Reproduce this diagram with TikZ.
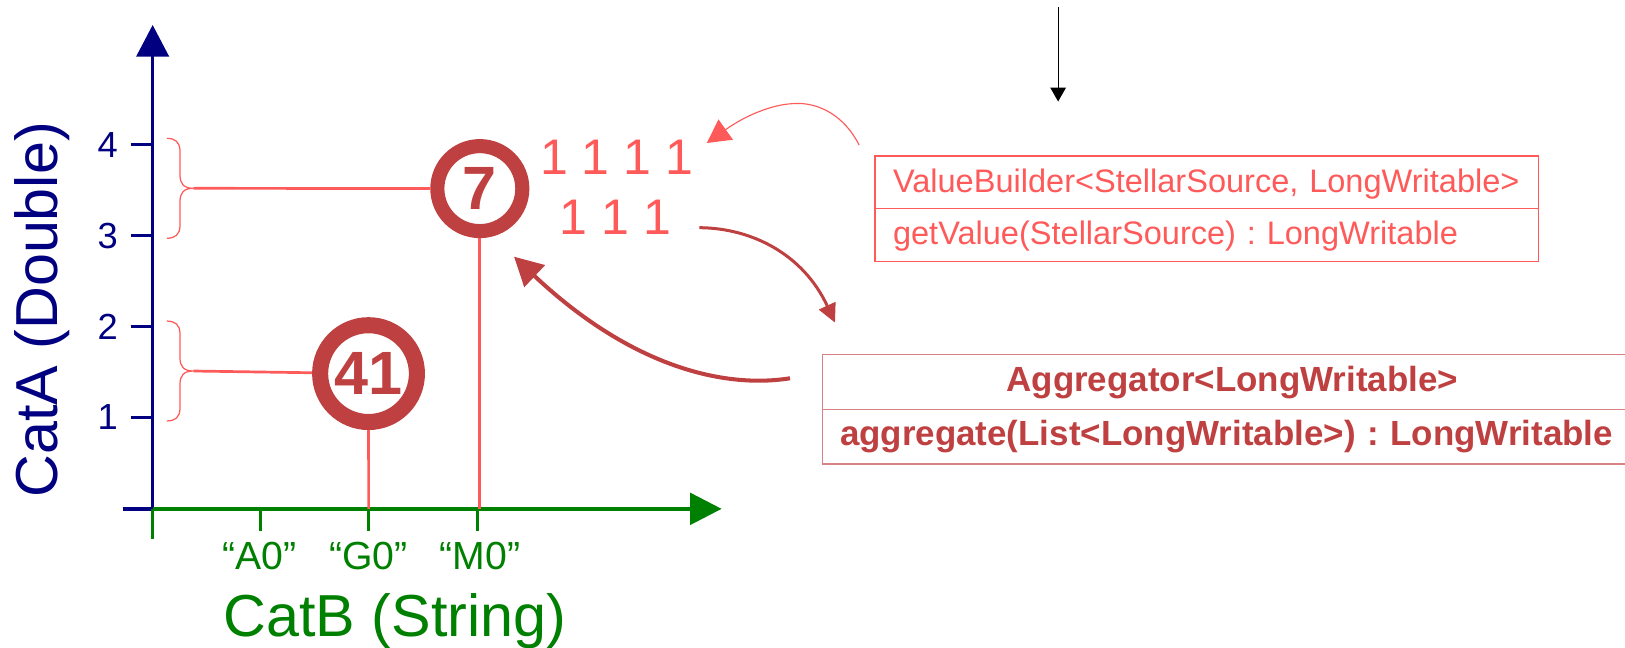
\documentclass[tikz,border=0pt]{standalone}
\usepackage{fontspec}
\setmainfont{Liberation Sans}
\usetikzlibrary{arrows.meta}
\frenchspacing

\definecolor{axisblue}{HTML}{000080}
\definecolor{axisgreen}{HTML}{008000}
\definecolor{salmon}{HTML}{FF5A5A}
\definecolor{brick}{HTML}{BF4040}

\tikzset{
  fsz/.style={font=\fontsize{#1}{#1}\selectfont},
  yaxisline/.style={draw=axisblue, line width=1.6pt},
  xaxisline/.style={draw=axisgreen, line width=1.6pt},
  ylabel/.style={text=axisblue, fsz=17.5pt, inner sep=0pt},
  xlabel/.style={text=axisgreen, fsz=18.9pt, inner sep=0pt, anchor=base},
  ring/.style={circle, draw=brick, inner sep=0pt, text=brick,
    font=\fontsize{29.5pt}{29.5pt}\selectfont\bfseries},
  stem/.style={draw=salmon, line width=1.3pt},
  curlystroke/.style={draw=salmon, line width=0.6pt},
  ones/.style={text=salmon, fsz=24.15pt, inner sep=0pt, anchor=base west},
  vbpart/.style={draw=salmon, line width=0.6pt, outer sep=0pt, inner ysep=0pt,
    inner xsep=8.7pt, text width=302.8pt, align=left, text=salmon,
    fsz=15.7pt, anchor=north west},
  aggpart/.style={draw=brick!65, line width=0.6pt, outer sep=0pt, inner ysep=0pt,
    text=brick, font=\fontsize{16.85pt}{16.85pt}\selectfont\bfseries,
    anchor=north west},
  pics/curly/.style={code={
    \draw[curlystroke] (-25.5,-48.2) .. controls (-17.5,-48.2) and (-12.8,-44.7) .. (-12.8,-35.7)
      -- (-12.8,-12.7) .. controls (-12.8,-4.7) and (-9.5,0) .. (0,0)
      .. controls (-9.5,0) and (-12.8,4.7) .. (-12.8,12.7)
      -- (-12.8,35.7) .. controls (-12.8,44.7) and (-17.5,48.2) .. (-25.5,48.2);
  }}
}

\begin{document}
\begin{tikzpicture}[x=0.5pt, y=-0.5pt]
\useasboundingbox (0,0) rectangle (1568,625);

% ---- axes ----
\coordinate (origin) at (147.3,491);
\coordinate (ytop) at (147.3,24.1);
\coordinate (xend) at (696.3,491);
\coordinate (ystub) at (118.4,491);
\coordinate (xstub) at (147.3,520);
\draw[yaxisline, -{Triangle[length=15.3pt,width=15.6pt]}] (origin) -- (ytop);
\draw[yaxisline] (ystub) -- (origin);
\draw[xaxisline, -{Triangle[length=15.25pt,width=15.3pt]}] (origin) -- (xend);
\draw[xaxisline] (origin) -- (xstub);

% y ticks and labels
\foreach \v/\yy in {4/139.6, 3/227.3, 2/315, 1/402.7}{
  \draw[yaxisline] (126,\yy) -- (147.3,\yy);
  \node[ylabel] (ylab\v) at (104,\yy) {\v};
}

% x ticks and labels
\foreach \n/\xx in {A/251.6, G/355.7, M/460.7}{
  \draw[xaxisline] (\xx,491) -- (\xx,512);
}
\node[xlabel] (labA) at (250,549.4) {“A0”};
\node[xlabel] (labG) at (355.7,549.4) {“G0”};
\node[xlabel] (labM) at (463,549.4) {“M0”};

% axis titles
\node[text=axisgreen, fsz=28.6pt, inner sep=0pt, anchor=base] (catB) at (381,614) {CatB (String)};
\node[text=axisblue, fsz=28.6pt, inner sep=0pt, anchor=base, rotate=90] (catA) at (55.4,299) {CatA (Double)};

% ---- braces and data points ----
\pic at (186.5,181.7) {curly};
\pic at (186.5,358) {curly};
\coordinate (tipU) at (186.5,181.7);
\coordinate (tipL) at (186.5,358);
\coordinate (footM) at (463,491);
\coordinate (footG) at (355.7,491);

\node[ring, minimum size=41pt, line width=6.8pt] (seven) at (463,182) {7};
\node[ring, minimum size=46.7pt, line width=7.75pt] (fortyone) at (355.6,360.5) {41};

\draw[stem] (tipU) -- (seven);
\draw[stem] (seven) -- (footM);
\draw[stem] (tipL) -- (fortyone);
\draw[stem] (fortyone) -- (footG);

% ---- bit rows ----
\node[ones] (rowA) at (520.8,168.2) {1 1 1 1};
\node[ones] (rowB) at (539.8,225.8) {1 1 1};

% ---- ValueBuilder box ----
\node[vbpart, text height=17.7pt, text depth=7.55pt] (vbhead) at (844.3,150.5)
  {ValueBuilder<StellarSource, LongWritable>};
\node[vbpart, text height=17.7pt, text depth=8.05pt] (vbop) at (vbhead.south west)
  {getValue(StellarSource) : LongWritable};

% ---- Aggregator box ----
\node[aggpart, inner xsep=0pt, text width=395pt, align=center,
  text height=18.05pt, text depth=8.5pt] (agghead) at (794,341.9)
  {Aggregator<LongWritable>};
\node[aggpart, inner xsep=8.3pt, text width=378.4pt, align=left,
  text height=17.65pt, text depth=8.7pt] (aggop) at (agghead.south west)
  {aggregate(List<LongWritable>) : LongWritable};

% ---- connectors ----
\coordinate (feedTop) at (1021,7.1);
\coordinate (feedEnd) at (1021,98);
\draw[line width=0.6pt, -{Triangle[length=6.75pt,width=7.5pt]}] (feedTop) -- (feedEnd);

\coordinate (vbTail) at (829,140);
\coordinate (rowTip) at (682,138);
\draw[salmon, line width=0.55pt, -{Triangle[length=11.2pt,width=11.9pt]}]
  (vbTail) .. controls (815,112) and (790,98) .. (765,100)
  .. controls (745,101) and (720,111) .. (rowTip);

\coordinate (rowOut) at (674.8,219.7);
\coordinate (aggIn) at (805.7,311.3);
\draw[brick, line width=1.45pt, -{Triangle[length=9pt,width=8.6pt]}]
  (rowOut) .. controls (725,220) and (775,245) .. (aggIn);

\coordinate (aggOut) at (762.3,365);
\coordinate (sevenIn) at (496,247.7);
\draw[brick, line width=1.95pt, -{Triangle[length=13.7pt,width=14.2pt]}]
  (aggOut) .. controls (700,375) and (610,355) .. (sevenIn);

\end{tikzpicture}
\end{document}
